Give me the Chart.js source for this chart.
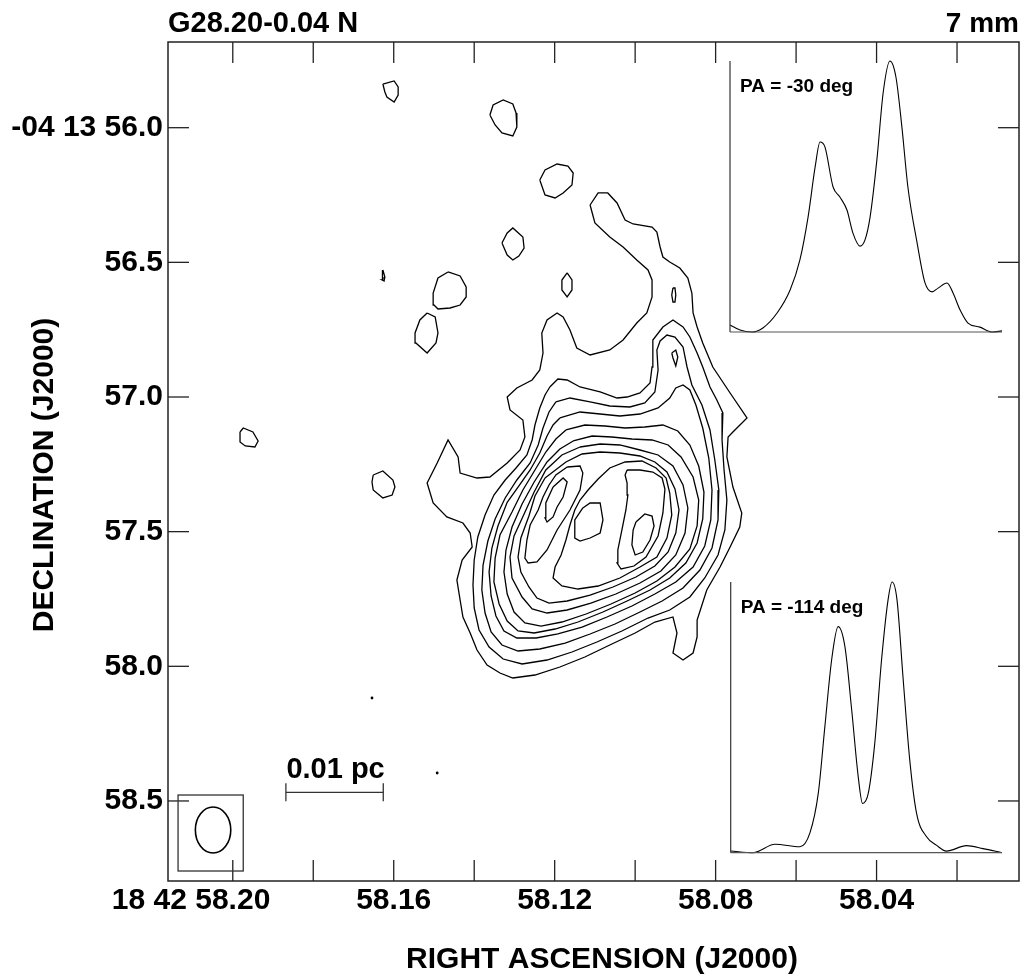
<!DOCTYPE html>
<html>
<head>
<meta charset="utf-8">
<script src="https://cdn.jsdelivr.net/npm/chart.js@4.4.1/dist/chart.umd.min.js"></script>
<style>
  html, body { margin: 0; background: #fff; }
  #wrap { width: 1027px; height: 978px; }
</style>
</head>
<body>
<div id="wrap"><canvas id="myChart" width="1027" height="978"></canvas></div>
<script>
// axes: RA in seconds of 18h42m, Dec in arcsec of -04d13m
var RA_RANGE = [58.0046, 58.2161];
var DEC_RANGE = [55.6818, 58.7972];
var RA_TICKS = [58.20, 58.18, 58.16, 58.14, 58.12, 58.10, 58.08, 58.06, 58.04, 58.02];
var RA_LABELS = ['58.20', '', '58.16', '', '58.12', '', '58.08', '', '58.04', ''];
var RA_PREFIX = '18 42 ';
var DEC_TICKS = [56.0, 56.5, 57.0, 57.5, 58.0, 58.5];
var DEC_LABELS = ['-04 13 56.0', '56.5', '57.0', '57.5', '58.0', '58.5'];

// contour levels, outermost first
var C1 = [[58.1112,56.2871],[58.1092,56.2424],[58.1068,56.2424],[58.1045,56.2796],[58.1025,56.3427],[58.1005,56.3576],[58.0958,56.3687],[58.0946,56.3873],[58.0938,56.4430],[58.0931,56.4801],[58.0914,56.4986],[58.0889,56.5210],[58.0869,56.5581],[58.0859,56.6138],[58.0856,56.6880],[58.0846,56.7400],[58.0832,56.7994],[58.0807,56.8886],[58.0764,56.9851],[58.0722,57.0779],[58.0757,57.1299],[58.0769,57.1485],[58.0772,57.2228],[58.0757,57.3342],[58.0735,57.4307],[58.0740,57.4827],[58.0764,57.5570],[58.0789,57.6313],[58.0822,57.7167],[58.0846,57.8281],[58.0846,57.8912],[58.0856,57.9506],[58.0881,57.9766],[58.0906,57.9506],[58.0896,57.8763],[58.0906,57.8169],[58.0951,57.8355],[58.1000,57.8763],[58.1063,57.9209],[58.1125,57.9655],[58.1187,58.0026],[58.1249,58.0323],[58.1304,58.0434],[58.1336,58.0248],[58.1368,57.9951],[58.1393,57.9395],[58.1410,57.8763],[58.1428,57.8169],[58.1435,57.7538],[58.1443,57.6795],[58.1430,57.6053],[58.1405,57.5570],[58.1410,57.5050],[58.1428,57.4679],[58.1468,57.4455],[58.1502,57.3936],[58.1517,57.3193],[58.1492,57.2450],[58.1465,57.1596],[58.1440,57.2228],[58.1435,57.2822],[58.1393,57.3008],[58.1361,57.2971],[58.1318,57.2450],[58.1286,57.1968],[58.1274,57.1485],[58.1279,57.0854],[58.1311,57.0482],[58.1318,57.0000],[58.1294,56.9665],[58.1256,56.9368],[58.1237,56.8997],[58.1229,56.8366],[58.1232,56.7623],[58.1219,56.7140],[58.1194,56.6880],[58.1179,56.7029],[58.1162,56.7512],[58.1145,56.8180],[58.1112,56.8440],[58.1063,56.8254],[58.1030,56.7883],[58.0996,56.7252],[58.0971,56.6880],[58.0958,56.6286],[58.0958,56.5655],[58.0968,56.5284],[58.0996,56.4912],[58.1030,56.4430],[58.1063,56.4058],[58.1100,56.3539]];
var C2 = [[58.1212,56.9628],[58.1192,56.9331],[58.1169,56.9368],[58.1137,56.9628],[58.1087,56.9814],[58.1045,57.0037],[58.1020,57.0000],[58.0988,56.9851],[58.0963,56.9479],[58.0958,56.8886],[58.0956,56.7883],[58.0931,56.7400],[58.0906,56.7140],[58.0881,56.7400],[58.0864,56.7772],[58.0846,56.8366],[58.0832,56.8886],[58.0814,56.9628],[58.0797,57.0111],[58.0782,57.0594],[58.0784,57.1596],[58.0779,57.2710],[58.0772,57.3825],[58.0777,57.4939],[58.0794,57.5867],[58.0827,57.6721],[58.0864,57.7427],[58.0914,57.7909],[58.0968,57.8207],[58.1033,57.8689],[58.1095,57.9098],[58.1157,57.9469],[58.1219,57.9766],[58.1281,57.9914],[58.1328,57.9729],[58.1363,57.9283],[58.1388,57.8652],[58.1400,57.7835],[58.1403,57.6981],[58.1400,57.6053],[58.1391,57.5199],[58.1373,57.4381],[58.1351,57.3639],[58.1323,57.3082],[58.1296,57.2636],[58.1269,57.2153],[58.1256,57.1596],[58.1249,57.1040],[58.1237,57.0408],[58.1224,56.9925]];
var C3 = [[58.1197,57.0185],[58.1162,57.0037],[58.1112,57.0185],[58.1063,57.0334],[58.1013,57.0371],[58.0976,57.0222],[58.0951,56.9814],[58.0943,56.8997],[58.0946,56.8254],[58.0938,56.7920],[58.0921,56.7698],[58.0901,56.7772],[58.0881,56.8143],[58.0871,56.8886],[58.0859,56.9554],[58.0834,57.0297],[58.0814,57.1225],[58.0802,57.2339],[58.0792,57.3453],[58.0794,57.4567],[58.0809,57.5607],[58.0839,57.6424],[58.0881,57.7092],[58.0933,57.7575],[58.0988,57.7984],[58.1050,57.8430],[58.1112,57.8800],[58.1174,57.9135],[58.1237,57.9357],[58.1291,57.9432],[58.1331,57.9209],[58.1358,57.8726],[58.1373,57.8021],[58.1381,57.7167],[58.1378,57.6239],[58.1366,57.5347],[58.1348,57.4530],[58.1323,57.3750],[58.1294,57.3082],[58.1261,57.2450],[58.1241,57.1782],[58.1229,57.1151],[58.1214,57.0557]];
var C4 = [[58.1187,57.0779],[58.1137,57.0557],[58.1087,57.0631],[58.1038,57.0705],[58.0988,57.0631],[58.0943,57.0408],[58.0914,57.0037],[58.0899,56.9665],[58.0881,56.9554],[58.0864,56.9740],[58.0849,57.0297],[58.0832,57.1151],[58.0817,57.2265],[58.0809,57.3453],[58.0812,57.4567],[58.0827,57.5533],[58.0856,57.6313],[58.0899,57.6869],[58.0951,57.7315],[58.1008,57.7761],[58.1070,57.8169],[58.1132,57.8541],[58.1192,57.8800],[58.1246,57.8949],[58.1294,57.8949],[58.1326,57.8689],[58.1346,57.8132],[58.1358,57.7390],[58.1363,57.6498],[58.1356,57.5607],[58.1341,57.4790],[58.1318,57.3910],[58.1291,57.3342],[58.1261,57.2710],[58.1237,57.2079],[58.1219,57.1448],[58.1204,57.1040]];
var C5 = [[58.1172,57.1225],[58.1125,57.1040],[58.1075,57.1077],[58.1025,57.1151],[58.0976,57.1114],[58.0931,57.1040],[58.0894,57.1262],[58.0864,57.1782],[58.0842,57.2562],[58.0829,57.3528],[58.0832,57.4530],[58.0846,57.5421],[58.0874,57.6164],[58.0914,57.6721],[58.0963,57.7167],[58.1020,57.7575],[58.1080,57.7984],[58.1142,57.8355],[58.1199,57.8615],[58.1251,57.8763],[58.1291,57.8689],[58.1318,57.8318],[58.1338,57.7687],[58.1351,57.6869],[58.1348,57.5978],[58.1336,57.5124],[58.1306,57.4270],[58.1279,57.3453],[58.1249,57.2710],[58.1222,57.2042],[58.1197,57.1559]];
var C6 = [[58.1154,57.1633],[58.1107,57.1448],[58.1058,57.1485],[58.1008,57.1559],[58.0958,57.1596],[58.0918,57.1782],[58.0886,57.2228],[58.0856,57.2971],[58.0842,57.3825],[58.0846,57.4790],[58.0864,57.5644],[58.0901,57.6313],[58.0946,57.6832],[58.1000,57.7278],[58.1060,57.7687],[58.1122,57.8058],[58.1182,57.8355],[58.1234,57.8504],[58.1274,57.8392],[58.1301,57.7984],[58.1318,57.7315],[58.1326,57.6498],[58.1321,57.5681],[58.1306,57.4827],[58.1281,57.3973],[58.1251,57.3156],[58.1219,57.2413],[58.1187,57.1931]];
var C7 = [[58.1137,57.1856],[58.1087,57.1745],[58.1038,57.1782],[58.0988,57.1968],[58.0943,57.2153],[58.0906,57.2562],[58.0881,57.3267],[58.0869,57.4121],[58.0876,57.5050],[58.0899,57.5867],[58.0936,57.6461],[58.0988,57.6907],[58.1048,57.7315],[58.1110,57.7650],[58.1169,57.7909],[58.1219,57.8021],[58.1256,57.7872],[58.1281,57.7427],[58.1306,57.6721],[58.1311,57.5941],[58.1301,57.5161],[58.1276,57.4344],[58.1251,57.3528],[58.1222,57.2710],[58.1182,57.2153]];
var C8 = [[58.1224,57.3008],[58.1172,57.2413],[58.1132,57.2116],[58.1087,57.2042],[58.1038,57.2079],[58.0988,57.2191],[58.0951,57.2413],[58.0921,57.2785],[58.0901,57.3416],[58.0891,57.4196],[58.0899,57.5050],[58.0918,57.5756],[58.0951,57.6276],[58.0998,57.6684],[58.1055,57.7055],[58.1112,57.7353],[58.1169,57.7575],[58.1214,57.7650],[58.1244,57.7464],[58.1264,57.7055],[58.1284,57.6498],[58.1291,57.5941],[58.1284,57.5236],[58.1264,57.4419],[58.1249,57.3676]];
// inner structure: west lobe, middle + east ridge
var LOBE_W = [[58.1169,57.2599],[58.1137,57.2562],[58.1130,57.2822],[58.1137,57.3453],[58.1162,57.4196],[58.1194,57.4939],[58.1219,57.5681],[58.1244,57.6127],[58.1266,57.6164],[58.1274,57.5978],[58.1269,57.5310],[58.1261,57.4753],[58.1241,57.4196],[58.1229,57.3713],[58.1214,57.3267],[58.1197,57.2896]];
var PEAK_W = [[58.1204,57.3342],[58.1179,57.3008],[58.1169,57.3156],[58.1179,57.3713],[58.1194,57.4085],[58.1204,57.4455],[58.1219,57.4642],[58.1224,57.4493],[58.1222,57.3936]];
var RIDGE_E = [[58.1162,57.4753],[58.1150,57.4196],[58.1137,57.3825],[58.1117,57.3453],[58.1092,57.3045],[58.1063,57.2636],[58.1025,57.2413],[58.0983,57.2376],[58.0948,57.2636],[58.0923,57.3008],[58.0914,57.3565],[58.0909,57.4381],[58.0921,57.5236],[58.0946,57.5941],[58.0988,57.6313],[58.1038,57.6721],[58.1092,57.7018],[58.1142,57.7130],[58.1182,57.7018],[58.1204,57.6721],[58.1199,57.6313],[58.1184,57.5867],[58.1172,57.5310]];
var PEAK_M = [[58.1130,57.4121],[58.1112,57.3936],[58.1087,57.3936],[58.1080,57.4567],[58.1087,57.5050],[58.1112,57.5236],[58.1137,57.5347],[58.1150,57.5236],[58.1150,57.4567]];
var LOBE_E = [[58.1020,57.2710],[58.0988,57.2710],[58.0956,57.2785],[58.0933,57.3008],[58.0926,57.3416],[58.0931,57.4307],[58.0943,57.5161],[58.0973,57.5941],[58.1003,57.6276],[58.1035,57.6387],[58.1045,57.6164],[58.1043,57.5681],[58.1033,57.4939],[58.1023,57.4196],[58.1018,57.3639],[58.1020,57.3193],[58.1025,57.2896]];
var PEAK_E = [[58.0998,57.4642],[58.0976,57.4344],[58.0958,57.4419],[58.0953,57.4790],[58.0963,57.5310],[58.0981,57.5756],[58.1000,57.5867],[58.1008,57.5496],[58.1005,57.4939]];
var PEAK_N = [[58.0909,56.8366],[58.0899,56.8254],[58.0894,56.8514],[58.0899,56.8849],[58.0906,56.8552]];
var SLIT_N = [[58.0906,56.5952],[58.0901,56.5952],[58.0899,56.6212],[58.0901,56.6472],[58.0906,56.6472],[58.0909,56.6212]];
// isolated noise islands
var B1 = [[58.1627,55.8378],[58.1599,55.8266],[58.1589,55.8489],[58.1589,55.8786],[58.1599,55.9045],[58.1617,55.8860],[58.1622,55.8674]];
var B2 = [[58.1361,55.9528],[58.1353,55.9157],[58.1328,55.8971],[58.1304,55.9120],[58.1296,55.9454],[58.1294,55.9974],[58.1304,56.0308],[58.1331,56.0197],[58.1348,55.9899]];
var B3 = [[58.1237,56.1942],[58.1224,56.1571],[58.1194,56.1348],[58.1167,56.1422],[58.1154,56.1682],[58.1157,56.2128],[58.1179,56.2424],[58.1199,56.2610],[58.1224,56.2499]];
var B4 = [[58.1331,56.4281],[58.1318,56.3910],[58.1304,56.3724],[58.1279,56.4058],[58.1276,56.4467],[58.1289,56.4764],[58.1304,56.4912],[58.1318,56.4727]];
var B5 = [[58.1627,56.5284],[58.1622,56.5544],[58.1624,56.5692],[58.1629,56.5655],[58.1629,56.5507]];
var B6 = [[58.1169,56.5395],[58.1157,56.5655],[58.1157,56.6026],[58.1169,56.6286],[58.1182,56.6026],[58.1182,56.5655]];
var B7 = [[58.1465,56.5358],[58.1435,56.5507],[58.1420,56.5915],[58.1420,56.6286],[58.1435,56.6584],[58.1460,56.6695],[58.1490,56.6732],[58.1500,56.6584],[58.1502,56.6138],[58.1490,56.5581]];
var B8 = [[58.1517,56.6880],[58.1497,56.7029],[58.1490,56.7623],[58.1495,56.7994],[58.1517,56.8366],[58.1545,56.7994],[58.1547,56.7623],[58.1535,56.7140]];
var B9 = [[58.1982,57.1299],[58.1974,57.1151],[58.1950,57.1299],[58.1937,57.1633],[58.1945,57.1856],[58.1969,57.1819],[58.1982,57.1670]];
var B10 = [[58.1651,57.2896],[58.1627,57.2748],[58.1602,57.3082],[58.1597,57.3342],[58.1604,57.3639],[58.1627,57.3750],[58.1651,57.3453],[58.1654,57.3156]];
var SPECKS = [[58.1654,58.1177],[58.1492,58.3962]];

// cuts through the source: position along cut (% of cut) and normalised flux
var CUT1_PA = 'PA = -30 deg';
var CUT1_POS = [0,3.7,8.0,12.1,17.3,22.1,25.7,28.7,31.3,33.1,34.9,37.9,40.4,43.0,45.2,47.8,49.6,51.5,54.0,56.3,58.8,61.0,63.2,65.4,68.8,71.7,74.3,76.5,79.8,82.0,84.6,87.5,91.9,96.3,100];
var CUT1_FLUX = [0.026,0.007,0.0,0.015,0.070,0.155,0.266,0.424,0.609,0.701,0.683,0.535,0.498,0.450,0.365,0.317,0.339,0.424,0.635,0.882,1.0,0.941,0.756,0.535,0.328,0.181,0.148,0.162,0.181,0.144,0.081,0.033,0.018,0.0,0.004];
var CUT2_PA = 'PA = -114 deg';
var CUT2_POS = [0,8.3,16.3,25.5,29.2,32.3,34.7,37.2,39.6,42.1,44.6,47.0,48.6,50.7,53.1,55.6,58.0,59.5,61.3,63.5,66.0,68.5,72.2,75.8,79.5,86.9,93.0,100];
var CUT2_FLUX = [0.006,0.0,0.031,0.022,0.073,0.221,0.465,0.712,0.835,0.761,0.527,0.281,0.182,0.219,0.404,0.712,0.934,1.0,0.934,0.650,0.342,0.146,0.059,0.028,0.006,0.026,0.015,0.0];

// beam (RA s, Dec arcsec) and 0.01 pc scale bar
var BEAM_CENTER = [58.2049, 58.6078];
var BEAM_SIZE = [0.0088, 0.171];
var BEAM_BOX = [58.2136, 58.1974, 58.4779, 58.7601];
var BAR_RA = [58.1868, 58.1626];
var BAR_DEC = 58.468;

// layout (canvas px)
var AREA = { left: 168, right: 1019, top: 42, bottom: 881 };
var INSET1 = { left: 730, right: 1002, top: 61, base: 332 };
var INSET2 = { left: 730.7, right: 1002, top: 582, base: 852.7 };
var FONT = '"Liberation Sans", Arial, Helvetica, sans-serif';
var TICK_PAD = 5;

function insetRange(box) {
  var pu = (box.right - box.left) / 100;
  var pv = box.base - box.top;
  return {
    xmin: -(box.left - AREA.left) / pu,
    xmax: 100 + (AREA.right - box.right) / pu,
    ymin: -(AREA.bottom - box.base) / pv,
    ymax: 1 + (box.top - AREA.top) / pv
  };
}
var r1 = insetRange(INSET1), r2 = insetRange(INSET2);

function closed(c) {
  return c.concat([c[0]]).map(function (p) { return { x: p[0], y: p[1] }; });
}

var contours = [C1, C2, C3, C4, C5, C6, C7, C8, LOBE_W, PEAK_W, RIDGE_E, PEAK_M, LOBE_E, PEAK_E,
  PEAK_N, SLIT_N, B1, B2, B3, B4, B5, B6, B7, B8, B9, B10];

var datasets = contours.map(function (c) {
  return { data: closed(c), showLine: true, borderColor: '#000', borderWidth: 1.3,
    pointRadius: 0, tension: 0, xAxisID: 'x', yAxisID: 'y' };
});
datasets.push({ data: SPECKS.map(function (p) { return { x: p[0], y: p[1] }; }),
  showLine: false, pointRadius: 1.4, pointBackgroundColor: '#000', pointBorderWidth: 0,
  xAxisID: 'x', yAxisID: 'y' });
datasets.push({ data: CUT1_POS.map(function (u, i) { return { x: u, y: CUT1_FLUX[i] }; }),
  showLine: true, borderColor: '#000', borderWidth: 1.1, pointRadius: 0,
  cubicInterpolationMode: 'monotone', xAxisID: 'xA', yAxisID: 'yA' });
datasets.push({ data: CUT2_POS.map(function (u, i) { return { x: u, y: CUT2_FLUX[i] }; }),
  showLine: true, borderColor: '#000', borderWidth: 1.1, pointRadius: 0,
  cubicInterpolationMode: 'monotone', xAxisID: 'xB', yAxisID: 'yB' });

function seg(ctx, x1, y1, x2, y2) {
  ctx.beginPath(); ctx.moveTo(x1, y1); ctx.lineTo(x2, y2); ctx.stroke();
}

var decorations = {
  id: 'decorations',
  afterDraw: function (chart) {
    var ctx = chart.ctx, a = chart.chartArea, sx = chart.scales.x, sy = chart.scales.y;
    ctx.save();
    // frame and inward ticks
    ctx.strokeStyle = '#222';
    ctx.lineWidth = 1.5;
    ctx.strokeRect(a.left, a.top, a.right - a.left, a.bottom - a.top);
    ctx.lineWidth = 1.3;
    RA_TICKS.forEach(function (v) {
      var px = sx.getPixelForValue(v);
      seg(ctx, px, a.bottom, px, a.bottom - 21);
      seg(ctx, px, a.top, px, a.top + 21);
    });
    DEC_TICKS.forEach(function (v) {
      var py = sy.getPixelForValue(v);
      seg(ctx, a.left, py, a.left + 21, py);
      seg(ctx, a.right, py, a.right - 21, py);
    });

    // cut insets: vertical axis and baseline
    [['xA', 'yA', CUT1_PA], ['xB', 'yB', CUT2_PA]].forEach(function (s) {
      var ix = chart.scales[s[0]], iy = chart.scales[s[1]];
      var x0 = ix.getPixelForValue(0), x1 = ix.getPixelForValue(100);
      var y0 = iy.getPixelForValue(0), y1 = iy.getPixelForValue(1);
      ctx.strokeStyle = '#333';
      ctx.lineWidth = 1.2;
      seg(ctx, x0, y0, x0, y1);
      ctx.strokeStyle = '#555';
      seg(ctx, x0, y0, x1, y0);
      ctx.fillStyle = '#000';
      ctx.font = 'bold 19px ' + FONT;
      ctx.textAlign = 'left';
      ctx.textBaseline = 'alphabetic';
      ctx.fillText(s[2], x0 + 10, y1 + 31);
    });

    // beam and its box
    var bx = sx.getPixelForValue(BEAM_CENTER[0]), by = sy.getPixelForValue(BEAM_CENTER[1]);
    var rx = Math.abs(sx.getPixelForValue(BEAM_CENTER[0] + BEAM_SIZE[0] / 2) - bx);
    var ry = Math.abs(sy.getPixelForValue(BEAM_CENTER[1] + BEAM_SIZE[1] / 2) - by);
    ctx.strokeStyle = '#000';
    ctx.lineWidth = 1.6;
    ctx.beginPath(); ctx.ellipse(bx, by, rx, ry, 0, 0, Math.PI * 2); ctx.stroke();
    var bl = sx.getPixelForValue(BEAM_BOX[0]), br = sx.getPixelForValue(BEAM_BOX[1]);
    var bt = sy.getPixelForValue(BEAM_BOX[2]), bb = sy.getPixelForValue(BEAM_BOX[3]);
    ctx.strokeStyle = '#333';
    ctx.lineWidth = 1.3;
    ctx.strokeRect(bl, bt, br - bl, bb - bt);

    // scale bar
    var s0 = sx.getPixelForValue(BAR_RA[0]), s1 = sx.getPixelForValue(BAR_RA[1]);
    var sb = sy.getPixelForValue(BAR_DEC);
    seg(ctx, s0, sb, s1, sb);
    seg(ctx, s0, sb - 9, s0, sb + 9);
    seg(ctx, s1, sb - 9, s1, sb + 9);
    ctx.fillStyle = '#000';
    ctx.font = 'bold 29px ' + FONT;
    ctx.textAlign = 'center';
    ctx.textBaseline = 'alphabetic';
    ctx.fillText('0.01 pc', (s0 + s1) / 2 + 1, sb - 14);

    // RA hour/minute prefix in front of the first label
    ctx.font = 'bold 30px ' + FONT;
    var p0 = sx.getPixelForValue(RA_TICKS[0]);
    var w0 = ctx.measureText(RA_LABELS[0]).width;
    ctx.textAlign = 'right';
    ctx.textBaseline = 'middle';
    ctx.fillText(RA_PREFIX, p0 - w0 / 2, a.bottom + TICK_PAD + 15);

    // titles
    ctx.font = 'bold 29px ' + FONT;
    ctx.textBaseline = 'alphabetic';
    ctx.textAlign = 'left';
    ctx.fillText('G28.20-0.04 N', a.left, 32);
    ctx.font = 'bold 28px ' + FONT;
    ctx.textAlign = 'right';
    ctx.fillText('7 mm', a.right, 32);
    ctx.font = 'bold 30px ' + FONT;
    ctx.textAlign = 'center';
    ctx.textBaseline = 'middle';
    ctx.fillText('RIGHT ASCENSION (J2000)', 602, 960);
    ctx.translate(45, 475);
    ctx.rotate(-Math.PI / 2);
    ctx.fillText('DECLINATION (J2000)', 0, 0);
    ctx.restore();
  }
};

var tickFont = { family: FONT, size: 30, weight: 'bold', lineHeight: 1 };

var ctx = document.getElementById('myChart').getContext('2d');
var chart = new Chart(ctx, {
  type: 'scatter',
  data: { datasets: datasets },
  options: {
    responsive: false,
    animation: false,
    devicePixelRatio: 1,
    layout: { padding: { left: 0, right: 1027 - AREA.right, top: AREA.top, bottom: 0 } },
    plugins: { legend: { display: false }, tooltip: { enabled: false } },
    scales: {
      x: {
        type: 'linear', reverse: true, min: RA_RANGE[0], max: RA_RANGE[1],
        afterBuildTicks: function (s) { s.ticks = RA_TICKS.map(function (v) { return { value: v }; }); },
        afterFit: function (s) { s.height = 978 - AREA.bottom; },
        ticks: { autoSkip: false, maxRotation: 0, padding: TICK_PAD, color: '#000', font: tickFont,
          callback: function (v, i) { return RA_LABELS[i]; } },
        grid: { display: false, drawTicks: false },
        border: { display: false }
      },
      y: {
        type: 'linear', reverse: true, min: DEC_RANGE[0], max: DEC_RANGE[1],
        afterBuildTicks: function (s) { s.ticks = DEC_TICKS.map(function (v) { return { value: v }; }); },
        afterFit: function (s) { s.width = AREA.left; },
        ticks: { autoSkip: false, padding: 5, color: '#000', font: tickFont,
          callback: function (v, i) { return DEC_LABELS[i]; } },
        grid: { display: false, drawTicks: false },
        border: { display: false }
      },
      xA: { axis: 'x', type: 'linear', display: false, min: r1.xmin, max: r1.xmax },
      yA: { axis: 'y', type: 'linear', display: false, min: r1.ymin, max: r1.ymax },
      xB: { axis: 'x', type: 'linear', display: false, min: r2.xmin, max: r2.xmax },
      yB: { axis: 'y', type: 'linear', display: false, min: r2.ymin, max: r2.ymax }
    }
  },
  plugins: [decorations]
});
</script>
</body>
</html>
